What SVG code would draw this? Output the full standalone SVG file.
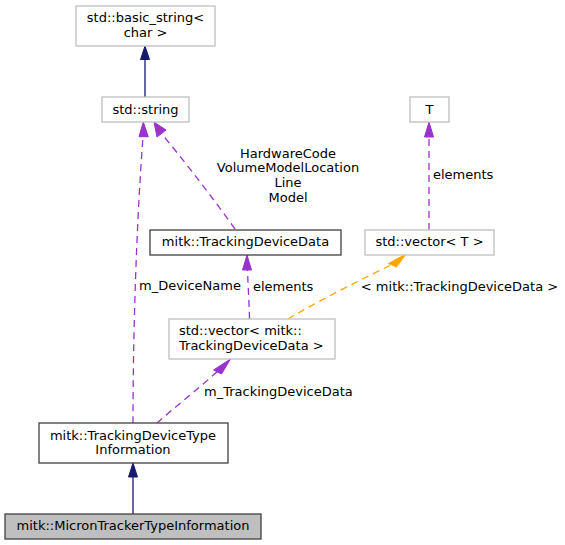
<svg xmlns="http://www.w3.org/2000/svg" width="565" height="545" viewBox="0 0 565 545">
<style>
text{font-family:"DejaVu Sans",sans-serif;font-size:13px;fill:#000}
.mid{text-anchor:middle}
.ext{fill:#fff;stroke:#bfbfbf;stroke-width:1.3}
.doc{fill:#fff;stroke:#404040;stroke-width:1.3}
.cur{fill:#bfbfbf;stroke:#404040;stroke-width:1.3}
.inh{fill:none;stroke:#191970;stroke-width:1.3}
.inhA{fill:#191970;stroke:#191970}
.use{fill:none;stroke:#9a32cd;stroke-width:1.3;stroke-dasharray:7,5}
.useA{fill:#9a32cd;stroke:#9a32cd}
.tpl{fill:none;stroke:#ffa500;stroke-width:1.3;stroke-dasharray:7,5}
.tplA{fill:#ffa500;stroke:#ffa500}
</style>
<rect width="565" height="545" fill="#fff"/>
<g id="edges">
  <path class="inh" d="M145,97 L145,59"/>
  <polygon class="inhA" points="145,46 140.5,59.5 149.5,59.5"/>
  <path class="inh" d="M133,514 L133,477"/>
  <polygon class="inhA" points="133,463 128.5,477 137.5,477"/>
  <path class="use" d="M133,423 C133,340 136,230 143,137"/>
  <polygon class="useA" points="143.3,122 139,136.7 148.3,136.7"/>
  <text x="139" y="290">m_DeviceName</text>
  <path class="use" d="M235,229 C212,197 186,163 161,133"/>
  <polygon class="useA" points="154,122 157,137 166,130"/>
  <text class="mid" x="288" y="157.5">HardwareCode</text>
  <text class="mid" x="288" y="172.2">VolumeModelLocation</text>
  <text class="mid" x="288" y="186.9">Line</text>
  <text class="mid" x="288" y="201.6">Model</text>
  <path class="use" d="M429,230 L429,137"/>
  <polygon class="useA" points="429,122 424.5,137 433.5,137"/>
  <text x="433" y="178.5">elements</text>
  <path class="tpl" d="M288,319 C320,300 360,280 393,264"/>
  <polygon class="tplA" points="406,254 388.5,263.5 396.5,267"/>
  <text class="mid" x="459.5" y="290.5">&lt; mitk::TrackingDeviceData &gt;</text>
  <path class="use" d="M249.5,319 C249,300 248,285 247.5,270"/>
  <polygon class="useA" points="247,255 242.5,270 251.5,270"/>
  <text x="253" y="291">elements</text>
  <path class="use" d="M157,423 C175,407 198,389 218,371"/>
  <polygon class="useA" points="230.5,359 213.5,370 221.5,374"/>
  <text x="204" y="395.5">m_TrackingDeviceData</text>
</g>
<g id="node_basic_string">
  <rect class="ext" x="76" y="6" width="139" height="40"/>
  <text class="mid" x="145.5" y="22">std::basic_string&lt;</text>
  <text class="mid" x="145.5" y="36.7">char &gt;</text>
</g>
<g id="node_string">
  <rect class="ext" x="102" y="97" width="87" height="25"/>
  <text class="mid" x="145.5" y="113.5">std::string</text>
</g>
<g id="node_T">
  <rect class="ext" x="410" y="97" width="39" height="25"/>
  <text class="mid" x="429.5" y="113.5">T</text>
</g>
<g id="node_TrackingDeviceData">
  <rect class="doc" x="150" y="230" width="191" height="25"/>
  <text class="mid" x="245.5" y="246">mitk::TrackingDeviceData</text>
</g>
<g id="node_vector_T">
  <rect class="ext" x="365" y="230" width="129" height="25"/>
  <text class="mid" x="429.5" y="246">std::vector&lt; T &gt;</text>
</g>
<g id="node_vector_TDD">
  <rect class="ext" x="169" y="319" width="166" height="40"/>
  <text x="179" y="335">std::vector&lt; mitk::</text>
  <text x="179" y="349.7">TrackingDeviceData &gt;</text>
</g>
<g id="node_TrackingDeviceTypeInformation">
  <rect class="doc" x="39" y="423" width="189" height="40"/>
  <text class="mid" x="133" y="439.5">mitk::TrackingDeviceType</text>
  <text class="mid" x="133" y="454.2">Information</text>
</g>
<g id="node_MicronTrackerTypeInformation">
  <rect class="cur" x="5" y="514" width="256" height="25"/>
  <text class="mid" x="133" y="530">mitk::MicronTrackerTypeInformation</text>
</g>
</svg>
